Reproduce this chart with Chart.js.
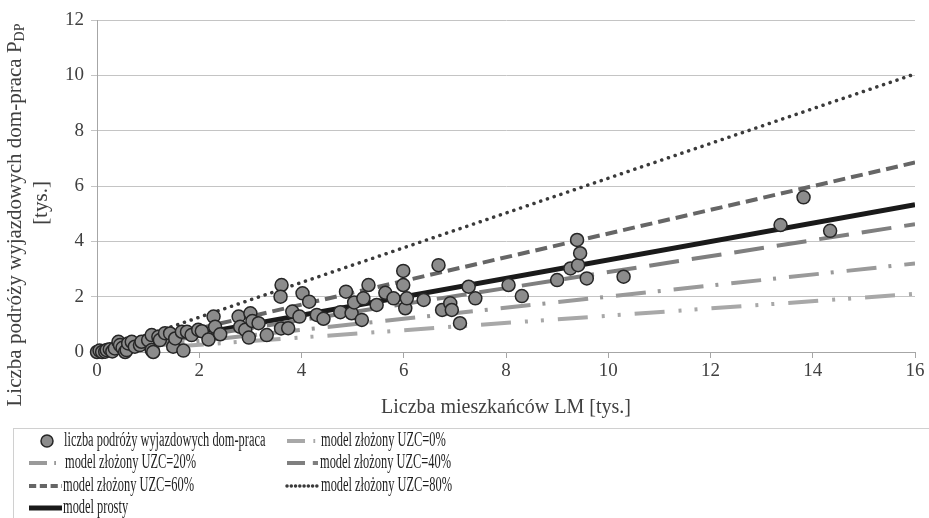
<!DOCTYPE html>
<html>
<head>
<meta charset="utf-8">
<script src="https://cdn.jsdelivr.net/npm/chart.js@4"></script>
<style>
  html, body { margin: 0; padding: 0; background: #fff; }
  #wrap { width: 929px; height: 518px; }
</style>
</head>
<body>
<div id="wrap"><canvas id="c" width="929" height="518"></canvas></div>
<script>
/* Liczba podróży dom-praca vs liczba mieszkańców */

// observed points (LM [tys.], P_DP [tys.])
const obsX = [0.0, 0.05, 0.1, 0.16, 0.19, 0.25, 0.3, 0.35, 0.42, 0.45, 0.5, 0.55, 0.58, 0.61, 0.68, 0.74,
  0.84, 0.87, 1.0, 1.07, 1.07, 1.1, 1.2, 1.23, 1.33, 1.43, 1.49, 1.53, 1.66, 1.69, 1.76, 1.85,
  1.98, 2.05, 2.18, 2.28, 2.31, 2.41, 2.77, 2.8, 2.9, 2.97, 3.0, 3.04, 3.16, 3.32, 3.61, 3.59,
  3.6, 3.74, 3.82, 3.96, 4.02, 4.15, 4.3, 4.43, 4.76, 4.87, 4.98, 5.03, 5.18, 5.21, 5.31, 5.47,
  5.64, 5.8, 5.99, 5.99, 6.03, 6.06, 6.39, 6.68, 6.75, 6.91, 6.94, 7.1, 7.27, 7.4, 8.05, 8.31,
  9.0, 9.26, 9.39, 9.41, 9.45, 9.58, 10.3, 13.37, 13.82, 14.34];
const obsY = [0.0, 0.05, 0.0, 0.01, 0.07, 0.1, 0.02, 0.13, 0.37, 0.25, 0.15, 0.0, 0.07, 0.31, 0.37, 0.19,
  0.25, 0.37, 0.43, 0.61, 0.07, 0.0, 0.55, 0.43, 0.68, 0.67, 0.19, 0.49, 0.73, 0.05, 0.73, 0.61,
  0.8, 0.75, 0.45, 1.28, 0.91, 0.64, 1.28, 0.91, 0.8, 0.52, 1.4, 1.12, 1.04, 0.61, 2.42, 2.0,
  0.85, 0.86, 1.46, 1.28, 2.12, 1.82, 1.34, 1.2, 1.44, 2.18, 1.4, 1.79, 1.16, 1.94, 2.42, 1.7,
  2.14, 1.94, 2.93, 2.42, 1.58, 1.94, 1.88, 3.14, 1.52, 1.76, 1.52, 1.04, 2.36, 1.94, 2.42, 2.02,
  2.6, 3.02, 4.05, 3.14, 3.57, 2.66, 2.72, 4.59, 5.59, 4.38];

// model lines, read at x = 0 and x = 16
const modelX = [0, 16];
const uzc0 = [0, 2.1];
const uzc20 = [0, 3.2];
const uzc40 = [0, 4.62];
const uzc60 = [0, 6.85];
const uzc80 = [0, 10.05];
const prosty = [0, 5.32];

const xTicks = [0, 2, 4, 6, 8, 10, 12, 14, 16];
const yTicks = [0, 2, 4, 6, 8, 10, 12];

const xTitle = "Liczba mieszkańców LM [tys.]";
const yTitle = "Liczba podróży wyjazdowych dom-praca P";
const yTitleSub = "DP";
const yTitle2 = "[tys.]";

const SERIF = '"Liberation Serif", "DejaVu Serif", serif';
const TXT = "#404040";

function pts(xs, ys) { return xs.map((x, i) => ({ x: x, y: ys[i] })); }

function lineDs(label, ys, color, width, dash, cap) {
  return {
    type: "line", label: label, data: pts(modelX, ys),
    borderColor: color, borderWidth: width, borderDash: dash || [],
    borderCapStyle: cap || "butt", pointRadius: 0, fill: false, tension: 0,
  };
}

const datasets = [
  { type: "scatter", label: "liczba podróży wyjazdowych dom-praca", data: pts(obsX, obsY),
    backgroundColor: "#8c8c8c", borderColor: "#262626", borderWidth: 1.5, pointRadius: 6.5, clip: false },
  lineDs("model złożony UZC=0%", uzc0, "#a8a8a8", 4, [30, 14, 3, 13, 3, 14]),
  lineDs("model złożony UZC=20%", uzc20, "#9a9a9a", 4, [30, 12, 3, 13]),
  lineDs("model złożony UZC=40%", uzc40, "#7f7f7f", 4, [30, 13]),
  lineDs("model złożony UZC=60%", uzc60, "#666666", 4, [12, 6]),
  lineDs("model złożony UZC=80%", uzc80, "#3a3a3a", 3.5, [0.1, 7], "round"),
  lineDs("model prosty", prosty, "#1a1a1a", 5, []),
];

// legend slots: [dataset index, sample x0, sample x1, text x, row y]
const legendSlots = [
  [0, 40, 54, 64, 441], [1, 287, 318, 321, 441],
  [2, 29, 58, 65, 463], [3, 287, 318, 320, 463],
  [4, 29, 62, 63, 486], [5, 287, 318, 321, 486],
  [6, 29, 62, 63, 508],
];

const extras = {
  id: "extras",
  afterDraw(chart) {
    const ctx = chart.ctx, ca = chart.chartArea;
    ctx.save();
    ctx.fillStyle = TXT;
    ctx.textBaseline = "middle";

    // x title
    ctx.font = "20px " + SERIF;
    ctx.textAlign = "center";
    ctx.fillText(xTitle, (ca.left + ca.right) / 2, 408);

    // y title with subscript
    ctx.save();
    ctx.translate(15, 215);
    ctx.rotate(-Math.PI / 2);
    ctx.font = "21px " + SERIF;
    const w1 = ctx.measureText(yTitle).width;
    ctx.font = "14px " + SERIF;
    const w2 = ctx.measureText(yTitleSub).width;
    const start = -(w1 + w2) / 2;
    ctx.textAlign = "left";
    ctx.font = "21px " + SERIF;
    ctx.fillText(yTitle, start, 0);
    ctx.font = "14px " + SERIF;
    ctx.fillText(yTitleSub, start + w1, 5);
    ctx.restore();

    ctx.save();
    ctx.translate(41, 203);
    ctx.rotate(-Math.PI / 2);
    ctx.font = "21px " + SERIF;
    ctx.textAlign = "center";
    ctx.fillText(yTitle2, 0, 0);
    ctx.restore();

    // legend box
    ctx.strokeStyle = "#d0d0d0";
    ctx.lineWidth = 1;
    ctx.strokeRect(13.5, 428.5, 930, 100);

    legendSlots.forEach(([i, x0, x1, tx, y]) => {
      const ds = chart.data.datasets[i];
      if (ds.type === "scatter") {
        ctx.beginPath();
        ctx.arc((x0 + x1) / 2, y, 6, 0, Math.PI * 2);
        ctx.fillStyle = ds.backgroundColor; ctx.fill();
        ctx.strokeStyle = ds.borderColor; ctx.lineWidth = ds.borderWidth; ctx.stroke();
      } else {
        ctx.beginPath();
        ctx.setLineDash(ds.borderDash.length ? ds.borderDash.map(v => v * 0.6) : []);
        ctx.lineCap = ds.borderCapStyle;
        ctx.strokeStyle = ds.borderColor; ctx.lineWidth = ds.borderWidth;
        ctx.moveTo(x0, y); ctx.lineTo(x1, y); ctx.stroke();
        ctx.setLineDash([]);
      }
      ctx.save();
      ctx.translate(tx, y);
      ctx.scale(0.62, 1);
      ctx.font = "20px " + SERIF;
      ctx.fillStyle = "#1e1e1e";
      ctx.textAlign = "left";
      ctx.fillText(ds.label, 0, 0);
      ctx.restore();
    });
    ctx.restore();
  }
};

new Chart(document.getElementById("c"), {
  type: "scatter",
  data: { datasets: datasets },
  options: {
    responsive: false, animation: false, devicePixelRatio: 1,
    layout: { padding: { top: 20, right: 14, left: 0, bottom: 0 } },
    plugins: { legend: { display: false }, tooltip: { enabled: false } },
    scales: {
      x: {
        type: "linear", min: 0, max: 16,
        afterBuildTicks: s => { s.ticks = xTicks.map(v => ({ value: v })); },
        afterFit: s => { s.height = 166; },
        ticks: { color: TXT, font: { family: SERIF, size: 19 }, padding: 2, maxRotation: 0 },
        grid: { drawOnChartArea: false, drawTicks: true, tickLength: 6, color: "#a6a6a6" },
        border: { color: "#a6a6a6" },
      },
      y: {
        min: 0, max: 12,
        afterBuildTicks: s => { s.ticks = yTicks.map(v => ({ value: v })); },
        afterFit: s => { s.width = 97; },
        ticks: { color: TXT, font: { family: SERIF, size: 19 }, padding: 7 },
        grid: { color: "#c4c4c4", tickLength: 6 },
        border: { color: "#a6a6a6" },
      },
    },
  },
  plugins: [extras],
});
</script>
</body>
</html>
